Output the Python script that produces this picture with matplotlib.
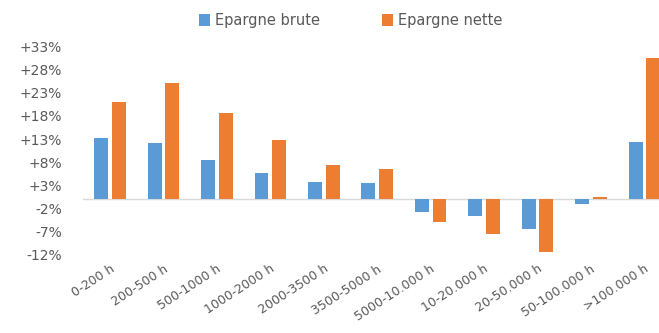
import matplotlib.pyplot as plt
import numpy as np

# data (percent)
categories = ["0-200 h", "200-500 h", "500-1000 h", "1000-2000 h", "2000-3500 h",
              "3500-5000 h", "5000-10.000 h", "10-20.000 h", "20-50.000 h",
              "50-100.000 h", ">100.000 h"]
epargne_brute = [13.3, 12.2, 8.5, 5.6, 3.7, 3.4, -2.8, -3.7, -6.5, -1.1, 12.4]
epargne_nette = [21.1, 25.2, 18.7, 12.8, 7.4, 6.5, -5.0, -7.6, -11.5, 0.3, 30.6]
yticks = [-12, -7, -2, 3, 8, 13, 18, 23, 28, 33]

blue = "#5B9BD5"
orange = "#ED7D31"
grey = "#595959"

plt.rcParams['font.family'] = ['DejaVu Sans']

fig = plt.figure(figsize=(6.59, 3.33), dpi=100)
ax = fig.add_axes([0.126, 0.237, 0.892, 0.622])

x = np.arange(len(categories))
w = 0.26
ax.bar(x - 0.16, epargne_brute, w, color=blue, label="Epargne brute")
ax.bar(x + 0.17, epargne_nette, w, color=orange, label="Epargne nette")

ax.axhline(0, color="#d9d9d9", lw=1, zorder=0)
ax.set_xlim(-0.5, len(categories) - 0.5)
ax.set_ylim(-12, 33)
ax.set_yticks(yticks)
ax.set_yticklabels([f"{v:+d}%" for v in yticks], color=grey, fontsize=10)
ax.set_xticks(x)
ax.set_xticklabels(categories, rotation=33, ha="right", rotation_mode="anchor",
                   color=grey, fontsize=9)
ax.tick_params(axis="y", length=0, pad=15)
ax.tick_params(axis="x", length=0, pad=6)
for s in ax.spines.values():
    s.set_visible(False)

fig.legend(loc="upper center", bbox_to_anchor=(0.532, 1.0), ncol=2, frameon=False,
           fontsize=10.5, labelcolor=grey, handlelength=0.8, handleheight=0.8,
           columnspacing=4.2, handletextpad=0.35)

fig.savefig("out.png", dpi=100)
